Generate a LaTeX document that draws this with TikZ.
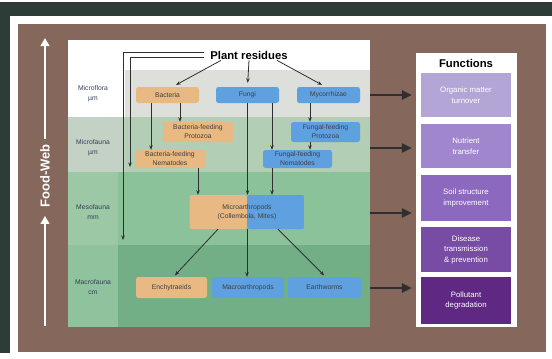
\documentclass[tikz,border=0pt]{standalone}
\usepackage{fontspec}
\setmainfont{Liberation Sans}
\usepackage{tikz}
\usetikzlibrary{arrows.meta}

\definecolor{frameDark}{HTML}{2D3C37}
\definecolor{soilBrown}{HTML}{86675C}
\definecolor{tanBox}{HTML}{E8B982}
\definecolor{blueBox}{HTML}{5FA0E1}
\definecolor{floraGray}{HTML}{DDDFDB}
\definecolor{faunaSide}{HTML}{C3D2C4}
\definecolor{faunaLight}{HTML}{B2CEB4}
\definecolor{mesoSide}{HTML}{9DC8A6}
\definecolor{mesoGreen}{HTML}{8CC29A}
\definecolor{macroSide}{HTML}{8FC39D}
\definecolor{macroGreen}{HTML}{72AF87}
\definecolor{funcA}{HTML}{B4A5D7}
\definecolor{funcB}{HTML}{A087CD}
\definecolor{funcC}{HTML}{8C69BE}
\definecolor{funcD}{HTML}{784BA5}
\definecolor{funcE}{HTML}{5F2882}
\definecolor{lineGray}{HTML}{2F2F2F}
\definecolor{labelInk}{HTML}{33405A}

\begin{document}
\begin{tikzpicture}[x=1pt,y=-1pt,
    orgbox/.style={rounded corners=2.5pt, inner sep=1pt, align=center, text=black!75,
        font=\fontsize{6.8}{9}\selectfont},
    bactbox/.style={orgbox, fill=tanBox},
    fungbox/.style={orgbox, fill=blueBox},
    flow/.style={draw=lineGray, line width=0.8pt, -{Stealth[length=4.5pt,width=3.5pt]}},
    funcarrow/.style={draw=lineGray, line width=2.6pt, -{Triangle[length=10pt,width=9pt]}},
    webline/.style={draw=white, line width=2.6pt, -{Triangle[length=8pt,width=8.5pt]}},
    funcbox/.style={minimum width=90pt, inner sep=1pt, text=white, align=center,
        font=\fontsize{7.8}{10.5}\selectfont},
    bandlabel/.style={align=center, text=labelInk, inner sep=0pt, font=\fontsize{6.8}{10}\selectfont},
    headline/.style={inner sep=1pt, font=\bfseries\fontsize{11.3}{12}\selectfont}]
    \useasboundingbox (0,0) rectangle (552,359);
    \fill[white] (0,0) rectangle (552,359);
    \fill[frameDark] (0,2) rectangle (552,16);
    \fill[frameDark] (0,2) rectangle (10,353);
    \fill[soilBrown] (18,24) rectangle (546,352);

    \fill[white] (68,40) rectangle (370,327);
    \fill[floraGray] (125,70) rectangle (370,117);
    \fill[faunaSide] (68,117) rectangle (125,172);
    \fill[faunaLight] (125,117) rectangle (370,172);
    \fill[mesoSide] (68,172) rectangle (118,245);
    \fill[mesoGreen] (118,172) rectangle (370,245);
    \fill[macroSide] (68,245) rectangle (118,327);
    \fill[macroGreen] (118,245) rectangle (370,327);

    \node[rotate=90, text=white, inner sep=2pt, font=\bfseries\fontsize{13}{13}\selectfont] (foodweb) at (45,176) {Food-Web};
    \coordinate (webBase) at (45,326);
    \coordinate (webTip) at (45,38);
    \draw[webline, shorten >=6pt] (webBase) -- (foodweb.west);
    \draw[webline, shorten <=3pt] (foodweb.east) -- (webTip);

    \node[bandlabel] (lblFlora) at (93,94) {Microflora\\µm};
    \node[bandlabel] (lblFauna) at (93,148) {Microfauna\\µm};
    \node[bandlabel] (lblMeso) at (93,212) {Mesofauna\\mm};
    \node[bandlabel] (lblMacro) at (93,287) {Macrofauna\\cm};

    \node[headline] (resid) at (249,55) {Plant residues};
    \node[bactbox, minimum width=63pt, minimum height=16pt] (bact) at (167.5,95) {Bacteria};
    \node[fungbox, minimum width=63pt, minimum height=16pt] (fungi) at (247.5,95) {Fungi};
    \node[fungbox, minimum width=63pt, minimum height=16pt] (myco) at (328.5,95) {Mycorrhizae};
    \node[bactbox, minimum width=70pt, minimum height=20pt] (bfprot) at (198,132) {Bacteria-feeding\\Protozoa};
    \node[fungbox, minimum width=69pt, minimum height=20pt] (ffprot) at (325.5,132) {Fungal-feeding\\Protozoa};
    \node[bactbox, minimum width=70pt, minimum height=18pt] (bfnem) at (170,159) {Bacteria-feeding\\Nematodes};
    \node[fungbox, minimum width=69pt, minimum height=18pt] (ffnem) at (297.5,159) {Fungal-feeding\\Nematodes};
    \node[orgbox, minimum width=115pt, minimum height=34pt,
        path picture={
            \fill[tanBox] (path picture bounding box.south west) rectangle (path picture bounding box.north);
            \fill[blueBox] (path picture bounding box.south) rectangle (path picture bounding box.north east);
        }] (microarth) at (247,212) {Microarthropods\\(Collembola, Mites)};
    \node[bactbox, minimum width=71pt, minimum height=21pt] (ench) at (171.5,287.5) {Enchytraeids};
    \node[fungbox, minimum width=72pt, minimum height=21pt] (macroarth) at (248,287.5) {Macroarthropods};
    \node[fungbox, minimum width=73pt, minimum height=21pt] (earthw) at (324.5,287.5) {Earthworms};

    \coordinate (colA) at (151,0);
    \coordinate (colB) at (180,0);
    \coordinate (colC) at (198,0);
    \coordinate (colD) at (272,0);
    \coordinate (colF) at (310,0);
    \coordinate (faunaTip) at (130,167);
    \coordinate (mesoTip) at (123,240);

    \draw[flow, shorten <=5pt] ([yshift=3pt]resid.west) -| (mesoTip);
    \draw[flow, shorten <=5pt] ([yshift=-2pt]resid.west) -| (faunaTip);
    \draw[flow, shorten >=4pt] ([xshift=-28pt]resid.south) -- ([xshift=5pt]bact.north);
    \draw[flow, shorten >=4pt] (resid.south) -- (fungi.north);
    \draw[flow, shorten >=4pt] ([xshift=28pt]resid.south) -- ([xshift=-3pt]myco.north);
    \draw[flow] (bact.south -| colB) -- (bfprot.north -| colB);
    \draw[flow] (bact.south -| colA) -- (bfnem.north -| colA);
    \draw[flow] (fungi.south -| colD) -- (ffnem.north -| colD);
    \draw[flow] (fungi.south) -- (fungi.south |- microarth.north);
    \draw[flow] (myco.south -| colF) -- (ffprot.north -| colF);
    \draw[flow] (ffprot.south -| colF) -- (ffnem.north -| colF);
    \draw[flow] (bfnem.south -| colC) -- (microarth.north -| colC);
    \draw[flow] (ffnem.south -| colD) -- (microarth.north -| colD);
    \draw[flow, shorten >=2pt] ([xshift=-29pt]microarth.south) -- ([xshift=2pt]ench.north);
    \draw[flow] (microarth.south) -- (microarth.south |- macroarth.north);
    \draw[flow, shorten >=2pt] ([xshift=31pt]microarth.south) -- ([xshift=1pt]earthw.north);

    \node[fill=white, minimum width=101pt, minimum height=274pt, inner sep=0pt] (fpanel) at (466.5,190) {};
    \node[headline] (ftitle) at (466,63) {Functions};
    \node[funcbox, fill=funcA, minimum height=44pt] (fnA) at (466,95) {Organic matter\\turnover};
    \node[funcbox, fill=funcB, minimum height=44pt] (fnB) at (466,146) {Nutrient\\transfer};
    \node[funcbox, fill=funcC, minimum height=46pt] (fnC) at (466,198) {Soil structure\\improvement};
    \node[funcbox, fill=funcD, minimum height=45pt] (fnD) at (466,249.5) {Disease\\transmission\\\& prevention};
    \node[funcbox, fill=funcE, minimum height=47pt] (fnE) at (466,300.5) {Pollutant\\degradation};

    \coordinate (rowA) at (370,95);
    \coordinate (rowB) at (370,148);
    \coordinate (rowC) at (370,213);
    \coordinate (rowD) at (370,288);
    \foreach \r in {rowA,rowB,rowC,rowD}
        \draw[funcarrow, shorten >=4pt] (\r) -- (\r -| fpanel.west);
\end{tikzpicture}
\end{document}
